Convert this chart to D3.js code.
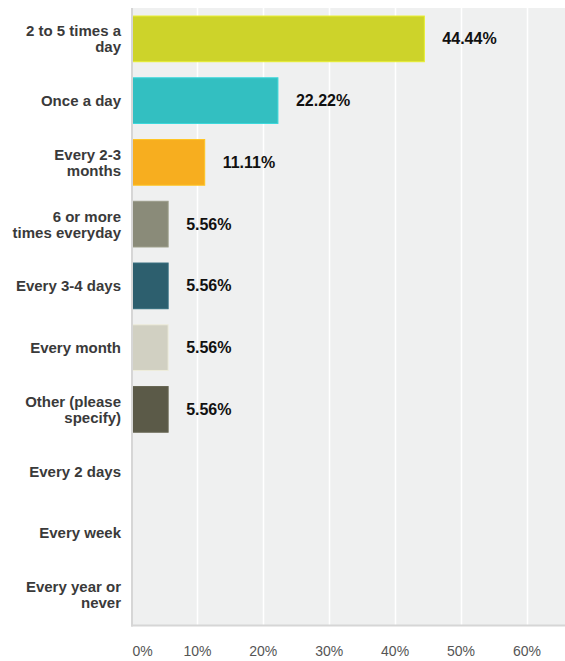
<!DOCTYPE html>
<html><head><meta charset="utf-8">
<script src="https://cdn.jsdelivr.net/npm/d3@7"></script>
<style>html,body{margin:0;padding:0;background:#fff;}svg{display:block;}</style>
</head><body>
<svg id="c" width="565" height="661"></svg>
<script>
const categories = ["2 to 5 times a day","Once a day","Every 2-3 months","6 or more times everyday","Every 3-4 days","Every month","Other (please specify)","Every 2 days","Every week","Every year or never"];
const categoryLines = [["2 to 5 times a","day"],["Once a day"],["Every 2-3","months"],["6 or more","times everyday"],["Every 3-4 days"],["Every month"],["Other (please","specify)"],["Every 2 days"],["Every week"],["Every year or","never"]];
const values = [44.44, 22.22, 11.11, 5.56, 5.56, 5.56, 5.56, 0, 0, 0];
const colors = ["#cdd32a","#33bfc1","#f7ae1f","#8a8b79","#2d5f6e","#d1d0c2","#5b5a48","#999","#999","#999"];
const tickValues = [0,10,20,30,40,50,60];

(function(){
const svg = d3.select("#c");
const pLeft = 131.5, pTop = 8, pBottom = 625.5;
const x = d3.scaleLinear().domain([0,70]).range([pLeft, pLeft + 6.59*70]);
const y = d3.scaleBand().domain(categories).range([pTop, pBottom]).paddingInner(0.26).paddingOuter(0.13);

svg.append("rect").attr("x", pLeft).attr("y", pTop).attr("width", 565 - pLeft).attr("height", pBottom - pTop).attr("fill", "#eff0f0");

svg.append("g").selectAll("line").data(tickValues.filter(d => d > 0)).join("line")
  .attr("x1", d => Math.round(x(d)) + 0.5).attr("x2", d => Math.round(x(d)) + 0.5)
  .attr("y1", pTop).attr("y2", pBottom).attr("stroke", "#fff").attr("stroke-width", 1.5);

svg.append("g").selectAll("rect").data(values).join("rect")
  .filter(d => d > 0)
  .attr("x", x(0)).attr("y", (d,i) => y(categories[i]))
  .attr("width", d => x(d) - x(0)).attr("height", y.bandwidth())
  .attr("fill", (d,i) => colors[i])
  .attr("stroke", (d,i) => d3.color(colors[i]).brighter(0.35))
  .attr("stroke-width", 1);

svg.append("g").selectAll("text").data(values).join("text")
  .filter(d => d > 0)
  .attr("x", d => x(d) + 18).attr("y", (d,i) => y(categories[i]) + y.bandwidth()/2)
  .attr("dy", "0.35em")
  .attr("font-family", "Liberation Sans, Arial, sans-serif").attr("font-weight", "bold")
  .attr("font-size", 16).attr("fill", "#111")
  .text(d => d.toFixed(2) + "%");

svg.append("line").attr("x1", pLeft + 0.5).attr("x2", pLeft + 0.5).attr("y1", pTop).attr("y2", pBottom + 1)
  .attr("stroke", "#d6d6d6").attr("stroke-width", 2);
svg.append("line").attr("x1", pLeft - 0.5).attr("x2", 565).attr("y1", pBottom).attr("y2", pBottom)
  .attr("stroke", "#d6d6d6").attr("stroke-width", 2);

const lh = 16;
const cat = svg.append("g").selectAll("text").data(categories).join("text")
  .attr("text-anchor", "end")
  .attr("font-family", "Liberation Sans, Arial, sans-serif").attr("font-weight", "bold")
  .attr("font-size", 15).attr("fill", "#3a3a3a")
  .attr("transform", (d,i) => {
    const n = categoryLines[i].length;
    const cy = y(d) + y.bandwidth()/2;
    return `translate(121,${cy - (n-1)*lh/2})`;
  });
cat.selectAll("tspan").data((d,i) => categoryLines[i]).join("tspan")
  .attr("x", 0).attr("y", (d,j) => j*lh).attr("dy", "0.36em").text(d => d);

svg.append("g").selectAll("text").data(tickValues).join("text")
  .attr("x", d => d === 0 ? x(0) + 1 : x(d))
  .attr("y", 656)
  .attr("text-anchor", d => d === 0 ? "start" : "middle")
  .attr("font-family", "Liberation Sans, Arial, sans-serif")
  .attr("font-size", 14).attr("fill", "#555")
  .text(d => d + "%");
})();
</script>
</body></html>
